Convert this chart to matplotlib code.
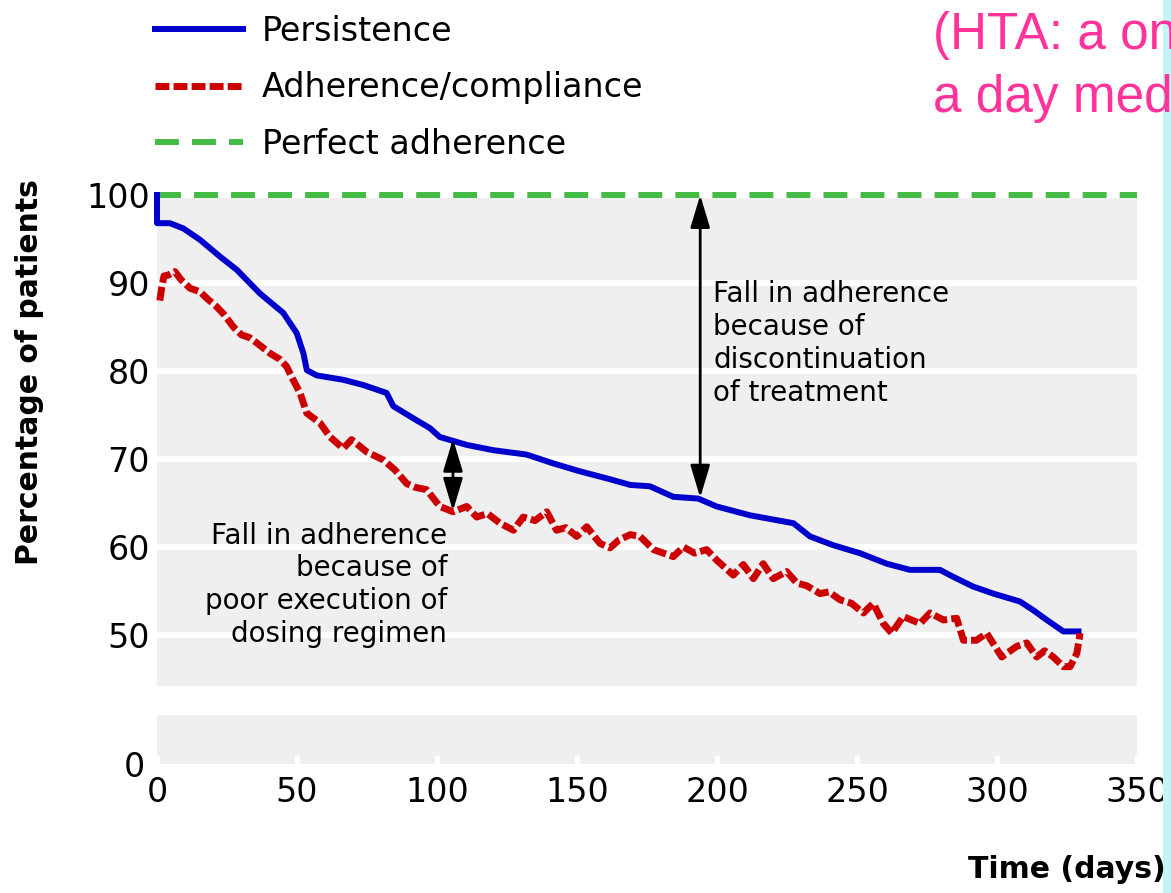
import matplotlib
matplotlib.use("Agg")
import matplotlib.pyplot as plt
from matplotlib.patches import Rectangle

# Values
persist_days = [0, 0, 4.6, 9.4, 15.4, 22.5, 28.5, 36.8, 45.1, 49.9,
                52.3, 53.5, 57, 66.5, 73.7, 82, 84.4, 92.7, 97.5, 101,
                110.6, 120.1, 132, 141.5, 151, 160.6, 169, 176, 184.4, 193.3,
                199.9, 211.8, 227.3, 233.2, 241.5, 251, 260.6, 268.9, 279.6, 284.4,
                291.5, 298.7, 308.2, 313, 317.8, 323.7, 329.1]
persist_pct = [100, 96.8, 96.8, 96.2, 94.9, 93.0, 91.5, 88.8, 86.6, 84.3,
               82.0, 80.1, 79.5, 79.0, 78.4, 77.5, 76.0, 74.4, 73.5, 72.5,
               71.6, 71.0, 70.5, 69.5, 68.6, 67.8, 67.05, 66.9, 65.7, 65.5,
               64.6, 63.6, 62.7, 61.2, 60.2, 59.3, 58.1, 57.4, 57.4, 56.6,
               55.5, 54.7, 53.8, 52.8, 51.7, 50.4, 50.4]

adher_days = [1.0, 1.7, 2.5, 4, 6.4, 8.5, 11.8, 15.4, 18, 21.3,
              24, 27.3, 30.2, 33, 35.6, 40.4, 44, 46.3, 48.6, 51.1,
              53.5, 58.2, 61.8, 66.5, 69.5, 74.9, 80.8, 85, 89.2, 92,
              96.3, 101, 105.8, 110.6, 114.2, 118, 122.5, 127.3, 130.8, 135,
              139.2, 142.7, 146, 149.9, 153.5, 158.2, 161.8, 165, 169, 172.5,
              177.3, 184.4, 188, 192, 196.3, 199.9, 205.8, 209.4, 213, 216.5,
              220.1, 224.9, 228.5, 232, 236.8, 240, 243.9, 248, 252.3, 255.8,
              259.4, 262.4, 266.5, 272.5, 276.1, 280.9, 285.6, 288, 292.7, 296.3,
              301.7, 307, 310.6, 314.2, 317, 320.1, 323.7, 326.1, 328.5, 329.4,
              329.6]
adher_pct = [88.0, 89.5, 90.8, 90.9, 91.3, 90.4, 89.4, 89.0, 88.2, 87.3,
             86.4, 85.0, 84.1, 83.8, 83.2, 82.0, 81.3, 80.5, 79.0, 77.5,
             75.2, 74.1, 72.5, 71.2, 72.2, 70.8, 69.9, 68.75, 67.2, 66.8,
             66.5, 64.6, 64.0, 64.6, 63.4, 63.8, 62.7, 61.9, 63.4, 63.0,
             64.0, 61.9, 62.2, 61.2, 62.3, 60.4, 59.9, 60.8, 61.4, 61.2,
             59.7, 58.9, 60.0, 59.3, 59.7, 58.5, 56.8, 58.0, 56.4, 58.1,
             56.4, 57.2, 55.9, 55.6, 54.7, 54.9, 54.0, 53.6, 52.5, 53.6,
             51.3, 50.2, 52.1, 51.3, 52.5, 51.7, 51.9, 49.4, 49.4, 50.2,
             47.5, 48.7, 49.1, 47.5, 48.2, 47.5, 46.4, 46.4, 47.9, 49.6,
             50.2]

perfect_pct = 100
x_ticks = [0, 50, 100, 150, 200, 250, 300, 350]
y_ticks = [50, 60, 70, 80, 90, 100]

big_arrow = (194, 65.6)    # day, lower end (upper end at 100)
small_arrow = (105.7, 72.3, 64.1)

W, H = 1171, 893
fig = plt.figure(figsize=(W / 100, H / 100), dpi=100)
fig.patch.set_facecolor("white")
fig.patches.append(Rectangle((1163 / W, 0), 1 - 1163 / W, 1, transform=fig.transFigure,
                             facecolor="#c4f3f8", edgecolor="none", zorder=0))

band = "#efefef"
left, width = 157 / W, (1137 - 157) / W
ax = fig.add_axes([left, 1 - 686 / H, width, (686 - 195) / H])
ax_lo = fig.add_axes([left, 1 - 764 / H, width, (764 - 715) / H])

for a in (ax, ax_lo):
    a.set_facecolor(band)
    a.set_xlim(0, 350)
    for s in a.spines.values():
        s.set_visible(False)

ax.set_ylim(44.2, 100)
ax.set_yticks(y_ticks)
ax.set_xticks([])
ax.grid(axis="y", color="white", lw=4.3)
ax.set_axisbelow(True)
ax.tick_params(axis="y", length=0, pad=5, labelsize=24)

ax_lo.set_ylim(0, 49 / 8.8)
ax_lo.set_yticks([0])
ax_lo.set_xticks(x_ticks)
ax_lo.tick_params(axis="y", length=0, pad=9, labelsize=24)
ax_lo.tick_params(axis="x", direction="in", color="white", length=6.5, width=3.5,
                  pad=9, labelsize=24)

green, = ax.plot([0, 350], [perfect_pct, perfect_pct], color="#44bb44", lw=4.3,
                 dashes=(4, 2.2), clip_on=False, zorder=3, label="Perfect adherence")
blue, = ax.plot(persist_days, persist_pct, color="#0000cc", lw=4.3, clip_on=False,
                zorder=4, label="Persistence")
red, = ax.plot(adher_days, adher_pct, color="#cc0000", lw=5, linestyle=(0, (2, 0.6)),
               clip_on=False, zorder=4, label="Adherence/compliance")

arrow = dict(arrowstyle="<|-|>,head_length=1.0,head_width=0.3", color="black",
             lw=2, mutation_scale=20, shrinkA=0, shrinkB=0)
ax.annotate("", xy=(big_arrow[0], 100), xytext=big_arrow, arrowprops=arrow, zorder=5)
ax.annotate("", xy=(small_arrow[0], small_arrow[1]), xytext=(small_arrow[0], small_arrow[2]),
            arrowprops=arrow, zorder=5)

ax.text(198.6, 83.1, "Fall in adherence\nbecause of\ndiscontinuation\nof treatment",
        fontsize=20, ha="left", va="center", linespacing=1.22)
ax.text(103.6, 55.7, "Fall in adherence\nbecause of\npoor execution of\ndosing regimen",
        fontsize=20, ha="right", va="center", ma="right", linespacing=1.22)

fig.legend(handles=[blue, red, green], loc="upper left",
           bbox_to_anchor=(155 / W, 1 - 15 / H), frameon=False, fontsize=24,
           handlelength=2.64, handletextpad=0.57, labelspacing=0.7,
           borderaxespad=0, borderpad=0)

fig.text(30 / W, 1 - 372 / H, "Percentage of patients", rotation=90, fontsize=21.5,
         fontweight="heavy", ha="center", va="center")
fig.text(1166 / W, 1 - 870 / H, "Time (days)", fontsize=21.5, fontweight="heavy",
         ha="right", va="center")

pink = "#ff3399"
fig.text(933 / W, 1 - 49 / H, "(HTA: a once", fontsize=37, color=pink,
         family="Liberation Sans", va="baseline")
fig.text(933 / W, 1 - 112 / H, "a day medication)", fontsize=37, color=pink,
         family="Liberation Sans", va="baseline")

fig.savefig("out.png", dpi=100)
